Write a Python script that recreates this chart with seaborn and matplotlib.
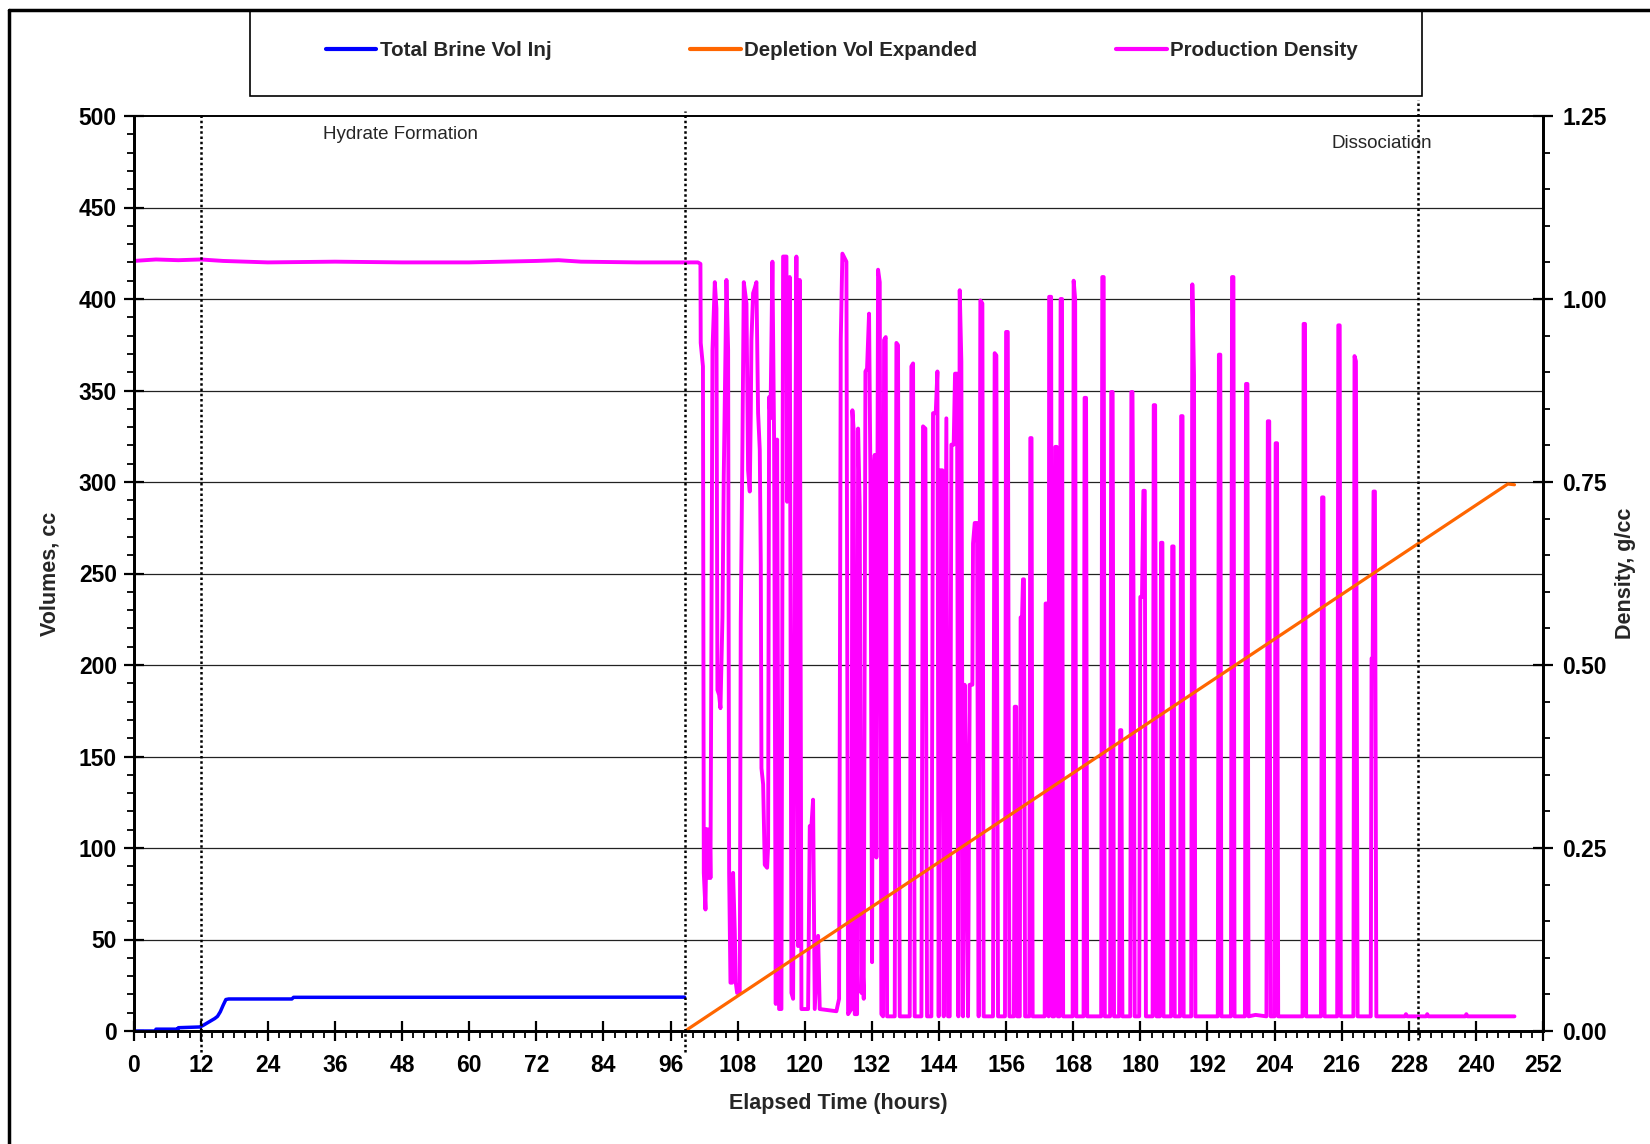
import numpy as np
import pandas as pd
import matplotlib.pyplot as plt
import seaborn as sns
from matplotlib.lines import Line2D
from matplotlib.patches import Rectangle
from matplotlib.ticker import MultipleLocator, FormatStrFormatter

# Total Brine Vol Inj (cc) vs elapsed time (hours)
brine_time = [0.0, 3.9, 4.0, 7.9, 8.0, 11.8, 12.4, 13.5, 14.5, 15.0, 15.5, 16.0, 16.5, 17.0, 28.3, 28.6, 98.5]
brine_vol = [0.0, 0.0, 1.0, 1.0, 1.8, 2.2, 3.0, 5.0, 6.8, 8.0, 10.5, 14.0, 17.2, 17.5, 17.5, 18.4, 18.5]

# Depletion Vol Expanded (cc)
depl_time = [98.6, 245.7, 246.9]
depl_vol = [0.0, 298.9, 298.5]

# Production Density (g/cc), (time, density)
dens_points = [
    (0.0, 1.052), (4.0, 1.054), (8.0, 1.053), (12.0, 1.054), (16.0, 1.052), (24.0, 1.050),
    (36.0, 1.051), (48.0, 1.050), (60.0, 1.050), (72.0, 1.052), (76.0, 1.053), (80.0, 1.051),
    (90.0, 1.050), (100.9, 1.050),
    (101.35, 1.048), (101.4, 0.940), (101.8, 0.908), (101.9, 0.451), (101.95, 0.216), (102.25, 0.166),
    (102.43, 0.276), (102.72, 0.209), (103.02, 0.276), (103.14, 0.209), (103.32, 0.544), (103.50, 0.930),
    (103.92, 1.023), (104.21, 0.987), (104.39, 0.466), (104.69, 0.459), (104.93, 0.441), (105.29, 0.566),
    (105.52, 0.758), (105.82, 0.930), (106.00, 1.026), (106.30, 0.930), (106.48, 0.216), (106.72, 0.066),
    (107.01, 0.066), (107.19, 0.216), (107.49, 0.137), (107.67, 0.066), (107.91, 0.052), (108.38, 0.052),
    (108.56, 0.559), (108.86, 0.801), (109.10, 1.023), (109.58, 0.994), (109.87, 0.766), (110.17, 0.737),
    (110.35, 0.844), (110.47, 0.944), (110.77, 1.008), (111.07, 1.015), (111.36, 1.023), (111.66, 0.844),
    (111.96, 0.794), (112.14, 0.637), (112.26, 0.359), (112.56, 0.337), (112.85, 0.227), (113.27, 0.223),
    (113.45, 0.252), (113.63, 0.866), (113.87, 0.837), (114.22, 1.051), (114.52, 0.808), (114.82, 0.037),
    (115.06, 0.808), (115.41, 0.030), (115.83, 0.030), (116.13, 1.058), (116.73, 1.058), (116.84, 0.723),
    (117.32, 1.030), (117.62, 0.052), (117.92, 0.044), (118.21, 0.630), (118.51, 1.058), (118.81, 0.116),
    (119.11, 1.026), (119.41, 0.030), (120.60, 0.030), (120.90, 0.280), (121.19, 0.280), (121.49, 0.316),
    (121.79, 0.030), (122.39, 0.130), (122.68, 0.030), (125.66, 0.027), (126.14, 0.044), (126.44, 0.944),
    (126.73, 1.062), (127.45, 1.051), (127.75, 0.023), (128.34, 0.030), (128.52, 0.848), (128.76, 0.819),
    (128.94, 0.023), (129.36, 0.023), (129.54, 0.823), (129.83, 0.716), (130.13, 0.052), (130.31, 0.102),
    (130.55, 0.044), (130.85, 0.901), (131.14, 0.905), (131.50, 0.980), (131.74, 0.758), (132.04, 0.094),
    (132.22, 0.751), (132.51, 0.787), (132.81, 0.237), (133.11, 1.040), (133.41, 1.023), (133.70, 0.023),
    (134.00, 0.020), (134.18, 0.944), (134.48, 0.948), (134.72, 0.020), (136.09, 0.020), (136.39, 0.940),
    (136.68, 0.937), (136.98, 0.020), (138.77, 0.020), (139.07, 0.908), (139.37, 0.912), (139.66, 0.020),
    (140.86, 0.020), (141.15, 0.826), (141.57, 0.823), (141.87, 0.020), (142.64, 0.020), (142.94, 0.844),
    (143.42, 0.844), (143.72, 0.901), (143.95, 0.020), (144.25, 0.766), (144.61, 0.766), (144.85, 0.020),
    (145.32, 0.837), (145.62, 0.020), (145.92, 0.020), (146.22, 0.801), (146.63, 0.801), (146.87, 0.898),
    (147.23, 0.898), (147.47, 0.020), (147.71, 1.012), (148.00, 0.915), (148.30, 0.020), (148.60, 0.473),
    (148.90, 0.301), (149.20, 0.020), (149.49, 0.473), (149.97, 0.473), (150.09, 0.666), (150.39, 0.694),
    (150.80, 0.694), (151.10, 0.020), (151.40, 0.998), (151.76, 0.994), (151.99, 0.020), (153.66, 0.020),
    (153.96, 0.926), (154.26, 0.923), (154.56, 0.020), (155.80, 0.020), (156.00, 0.955), (156.30, 0.955),
    (156.60, 0.020), (157.40, 0.020), (157.55, 0.443), (157.80, 0.443), (158.00, 0.020), (158.45, 0.020),
    (158.60, 0.565), (158.85, 0.565), (159.02, 0.617), (159.20, 0.617), (159.40, 0.020), (160.15, 0.020),
    (160.33, 0.810), (160.55, 0.810), (160.75, 0.020), (162.90, 0.020), (163.07, 0.584), (163.45, 0.584),
    (163.60, 0.020), (163.70, 1.003), (164.05, 1.003), (164.25, 0.020), (164.60, 0.020), (164.80, 0.798),
    (165.05, 0.798), (165.25, 0.020), (165.55, 0.020), (165.75, 1.000), (166.00, 1.000), (166.20, 0.020),
    (167.90, 0.020), (168.08, 1.025), (168.35, 1.000), (168.55, 0.020), (169.85, 0.020), (170.04, 0.865),
    (170.30, 0.865), (170.50, 0.020), (173.00, 0.020), (173.20, 1.030), (173.45, 1.030), (173.65, 0.020),
    (174.60, 0.020), (174.80, 0.873), (175.05, 0.873), (175.30, 0.020), (176.20, 0.020), (176.40, 0.411),
    (176.60, 0.411), (176.80, 0.020), (178.20, 0.020), (178.40, 0.873), (178.60, 0.873), (178.85, 0.488),
    (179.00, 0.020), (179.80, 0.020), (180.00, 0.593), (180.30, 0.593), (180.55, 0.738), (180.80, 0.738),
    (181.00, 0.020), (182.20, 0.020), (182.40, 0.855), (182.65, 0.855), (182.90, 0.020), (183.50, 0.020),
    (183.70, 0.667), (183.95, 0.667), (184.15, 0.020), (185.50, 0.020), (185.70, 0.662), (185.95, 0.662),
    (186.15, 0.020), (187.10, 0.020), (187.30, 0.840), (187.55, 0.840), (187.75, 0.020), (189.10, 0.020),
    (189.30, 1.020), (189.60, 0.896), (189.85, 0.020), (193.85, 0.020), (194.05, 0.924), (194.30, 0.924),
    (194.50, 0.020), (196.20, 0.020), (196.40, 1.030), (196.65, 1.030), (196.85, 0.020), (198.70, 0.020),
    (198.90, 0.884), (199.15, 0.884), (199.35, 0.020), (200.60, 0.022), (202.55, 0.020), (202.80, 0.833),
    (203.05, 0.833), (203.30, 0.020), (204.00, 0.020), (204.20, 0.803), (204.45, 0.803), (204.65, 0.020),
    (209.00, 0.020), (209.20, 0.966), (209.45, 0.966), (209.65, 0.020), (212.30, 0.020), (212.50, 0.729),
    (212.75, 0.729), (212.95, 0.020), (215.20, 0.020), (215.40, 0.964), (215.65, 0.964), (215.85, 0.020),
    (218.10, 0.020), (218.30, 0.922), (218.55, 0.915), (218.85, 0.020), (221.20, 0.020), (221.35, 0.509),
    (221.55, 0.509), (221.70, 0.737), (221.95, 0.737), (222.20, 0.020), (227.30, 0.020), (227.50, 0.023),
    (227.70, 0.020), (231.10, 0.020), (231.30, 0.023), (231.50, 0.020), (238.10, 0.020), (238.30, 0.023),
    (238.50, 0.020), (246.90, 0.020),
]

# phase markers (hours)
phase_times = [12.0, 98.6, 229.7]
phase_labels = ["Hydrate Formation", "Dissociation"]

series_names = ["Total Brine Vol Inj", "Depletion Vol Expanded", "Production Density"]
series_colors = ["#0000FF", "#FF6600", "#FF00FF"]

sns.set_theme(style="ticks")
plt.rcParams['font.family'] = ['Liberation Sans', 'DejaVu Sans']
plt.rcParams['font.weight'] = 'bold'
plt.rcParams['xtick.color'] = 'black'
plt.rcParams['ytick.color'] = 'black'
plt.rcParams['axes.edgecolor'] = 'black'

W, H = 1650, 1144
fig = plt.figure(figsize=(W / 100, H / 100), dpi=100)
ax = fig.add_axes([133.6 / W, (H - 1031) / H, (1543 - 133.6) / W, (1031 - 116) / H])
ax2 = ax.twinx()

brine = pd.DataFrame({'t': brine_time, 'v': brine_vol})
depl = pd.DataFrame({'t': depl_time, 'v': depl_vol})
dens = pd.DataFrame(dens_points, columns=['t', 'd'])

sns.lineplot(data=dens, x='t', y='d', ax=ax2, color=series_colors[2], lw=2.8,
             estimator=None, sort=False)
sns.lineplot(data=brine, x='t', y='v', ax=ax, color=series_colors[0], lw=2.5,
             estimator=None, sort=False)
sns.lineplot(data=depl, x='t', y='v', ax=ax, color=series_colors[1], lw=2.3,
             estimator=None, sort=False)

# orange/blue above magenta, white background from the twin
ax.set_zorder(ax2.get_zorder() + 1)
ax.patch.set_visible(False)
ax2.patch.set_facecolor('white')

ax.set_xlim(0, 252)
ax.set_ylim(0, 500)
ax2.set_ylim(0, 1.25)

# horizontal grid every 50 cc, drawn under the density line
for v in range(50, 500, 50):
    ax2.axhline(v * 1.25 / 500, color='#222222', lw=0.9, zorder=0.5)

ax.xaxis.set_major_locator(MultipleLocator(12))
ax.xaxis.set_minor_locator(MultipleLocator(2))
ax.yaxis.set_major_locator(MultipleLocator(50))
ax.yaxis.set_minor_locator(MultipleLocator(10))
ax2.yaxis.set_major_locator(MultipleLocator(0.25))
ax2.yaxis.set_minor_locator(MultipleLocator(0.05))
ax2.yaxis.set_major_formatter(FormatStrFormatter('%.2f'))

for a in (ax, ax2):
    a.tick_params(which='major', direction='inout', length=14, width=1.6, labelsize=16.5)
    a.tick_params(which='minor', direction='out', length=5, width=1.3)
    for s in ('left', 'right', 'bottom'):
        a.spines[s].set_linewidth(2)
    a.spines['top'].set_linewidth(1.2)
ax.tick_params(axis='y', pad=5)
ax.tick_params(axis='x', pad=9.5)
ax2.tick_params(axis='y', pad=7)

ax.set_xlabel('Elapsed Time (hours)', fontsize=15.5, fontweight='bold')
ax.xaxis.set_label_coords(0.5, -(1104 - 1031) / 915)
ax.xaxis.label.set_va('center')
ax.set_ylabel('Volumes, cc', fontsize=15.5, fontweight='bold')
ax.yaxis.set_label_coords((50.5 - 133.6) / 1409.4, 0.5)
ax.yaxis.label.set_va('center')
ax2.set_ylabel('Density, g/cc', fontsize=15.5, fontweight='bold')
ax2.yaxis.set_label_coords((1626 - 133.6) / 1409.4, 0.5)
ax2.yaxis.label.set_va('center')

# dotted phase markers, running a little past the plot frame
extents = [(-0.023, 1.0036), (-0.023, 1.006), (-0.010, 1.0175)]
for t, (lo, hi) in zip(phase_times, extents):
    ax.axvline(t, ymin=lo, ymax=hi, color='black', lw=1.8, ls=(0, (1, 1.1)), clip_on=False)

ax.text(33.85, 490, phase_labels[0], fontsize=13.5, fontweight='normal', va='center', ha='left')
ax.text(214.2, 485, phase_labels[1], fontsize=13.5, fontweight='normal', va='center', ha='left')

# legend in its own box at the top
handles = [Line2D([], [], color=c, lw=3) for c in series_colors]
fig.legend(handles, series_names, loc='center', bbox_to_anchor=(842 / W, 1 - 50.5 / H),
           ncol=3, frameon=False, fontsize=14.8, handlelength=2.45, handletextpad=0.18,
           columnspacing=6.75, borderaxespad=0)
fig.add_artist(Rectangle((250 / W, 1 - 96 / H), (1422 - 250) / W, (96 - 10) / H,
                         transform=fig.transFigure, fill=False, lw=1.2, ec='black'))

# outer chart frame (top and left edges only are in view)
fig.add_artist(Line2D([9 / W, 9 / W], [0, 1 - 10 / H], transform=fig.transFigure, color='black', lw=2.5))
fig.add_artist(Line2D([9 / W, 1], [1 - 10 / H, 1 - 10 / H], transform=fig.transFigure, color='black', lw=2.5))

fig.savefig('out.png', dpi=100)
